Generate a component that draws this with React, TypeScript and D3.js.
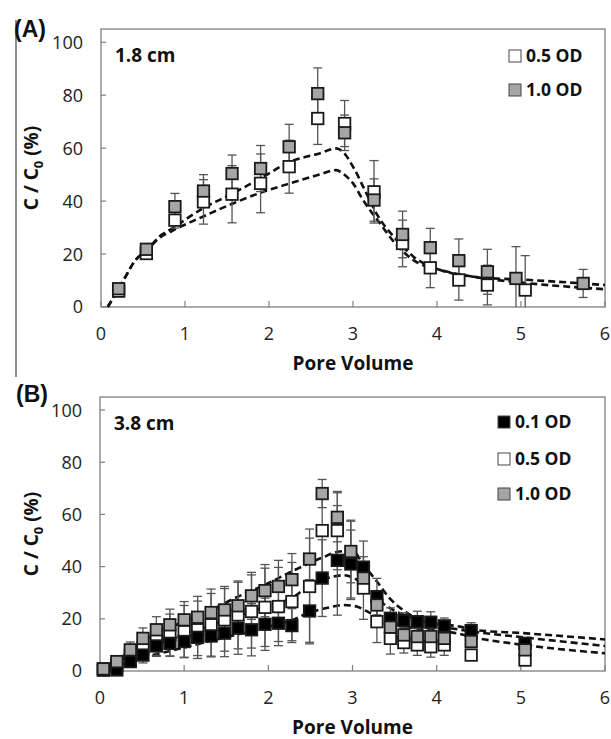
import { useEffect, useRef } from "react";
import * as d3 from "d3";

// ---- panel A (1.8 cm) ----
const pvA_05 = [0.21, 0.54, 0.88, 1.22, 1.56, 1.9, 2.24, 2.58, 2.9, 3.25, 3.59, 3.92, 4.26, 4.6, 5.05];
const cA_05 = [6, 20.2, 32.8, 39.7, 42.6, 46.7, 53, 71.2, 69.3, 43.5, 24, 14.8, 10.2, 8.3, 6.4];
const errA_05 = [1, 2, 3, 8.4, 10.8, 11.1, 10, 9.8, 8.7, 11.8, 8.8, 7.5, 7.6, 7.5, 13];

const pvA_10 = [0.21, 0.54, 0.88, 1.22, 1.56, 1.9, 2.24, 2.58, 2.9, 3.25, 3.59, 3.92, 4.26, 4.6, 4.94, 5.74];
const cA_10 = [6.9, 21.8, 37.9, 43.8, 50.4, 52.3, 60.5, 80.6, 65.8, 40.4, 27.4, 22.4, 17.5, 13.3, 10.8, 8.9];
const errA_10 = [1, 2, 5, 6.2, 7, 8.7, 8.5, 9.7, 6.7, 8, 8.8, 7.3, 8.2, 8.5, 12, 5.3];

const modelA_upper: [number, number][] = [
  [0.08, 0], [0.25, 9], [0.41, 17.7], [0.55, 21.5], [0.69, 26.5], [0.85, 29.7], [1.21, 37.2],
  [1.57, 42.9], [1.93, 49.2], [2.25, 54.8], [2.6, 58], [2.8, 59.9], [2.88, 58.6], [3.0, 53],
  [3.16, 42.9], [3.28, 35.3], [3.52, 25.3], [3.72, 19], [4.04, 14], [4.44, 11.4], [5.11, 10.2], [6, 8.3],
];
const modelA_lower: [number, number][] = [
  [0.08, 0], [0.25, 9], [0.41, 17.7], [0.55, 21.5], [0.69, 26], [0.85, 28.8], [1.21, 34.1],
  [1.57, 39.1], [1.93, 43.5], [2.25, 46.7], [2.6, 50], [2.8, 51.7], [2.88, 50.4], [3.0, 46.7],
  [3.12, 40.4], [3.32, 31.6], [3.52, 23.4], [3.72, 17.7], [4.04, 14], [4.44, 11.4], [5.11, 8.9], [6, 6.7],
];

// ---- panel B (3.8 cm) ----
const pvB = [0.04, 0.2, 0.36, 0.51, 0.67, 0.83, 1.0, 1.16, 1.32, 1.48, 1.64, 1.8, 1.96, 2.12, 2.28,
  2.49, 2.64, 2.82, 2.98, 3.13, 3.29, 3.45, 3.61, 3.77, 3.93, 4.09, 4.41, 5.05];
const cB_01 = [0.3, 0.4, 3.6, 6.1, 9.6, 10.6, 11.3, 12.9, 13.4, 14.5, 16.4, 15.8, 17.9, 18.3, 17.4,
  23, 35.6, 42.4, 41, 39.8, 28.5, 20.2, 19.3, 18.9, 18.7, 17.3, 15.5, 10.6];
const errB_01 = [1, 1, 2, 3, 4, 5, 6, 7, 8, 9, 10, 10, 10, 7, 6.5, 12, 14.7, 21, 13, 10, 7, 4, 3, 4, 4, 3, 3, 2];
const cB_05 = [0.8, 2, 6, 8.7, 11.9, 13.8, 15.1, 15.8, 17.7, 19.6, 21.5, 22.8, 24.4, 24.7, 26.6,
  32.4, 53.8, 53.8, 42.4, 31.8, 18.9, 12.5, 10.9, 10, 9.3, 10, 6.1, 4.2];
const errB_05 = [1, 2, 3, 4, 6, 8, 10, 11, 12, 12, 13, 14, 15, 15, 15, 22, 16, 15, 15, 12, 8, 6, 4, 4, 4, 4, 2, 2];
const cB_10 = [0.8, 3.6, 8.1, 12.5, 15.8, 17.7, 19.6, 20.6, 22.4, 23.4, 25, 28.8, 30.8, 32.4, 35,
  42.9, 68, 58.9, 45.8, 35.6, 25.3, 16.8, 13.8, 13.2, 13.2, 12.5, 11.3, 8.1];
const errB_10 = [1, 2, 3, 4, 5, 6, 7, 8, 9, 9, 9, 9, 10, 10, 10, 8, 5.4, 9.4, 12, 5, 4, 4, 3, 3, 3, 3, 2, 2];

const modelB_upper: [number, number][] = [
  [0, 0], [0.2, 4], [0.5, 11], [1, 19], [1.3, 23], [1.6, 27.9], [1.96, 33], [2.32, 38.8], [2.63, 43.3],
  [2.85, 45.8], [3.0, 46], [3.13, 40.7], [3.29, 34.3], [3.44, 27.9], [3.6, 23.4], [3.76, 20.2],
  [3.92, 18.3], [4.28, 17], [4.43, 15.8], [5.03, 14.5], [6, 12.1],
];
const modelB_middle: [number, number][] = [
  [0, 0], [0.5, 8], [1, 14], [1.5, 19.5], [2, 25], [2.28, 28], [2.45, 31.8], [2.65, 35], [2.9, 36.7],
  [3.05, 35], [3.21, 31.1], [3.36, 26], [3.52, 22.8], [3.72, 20.2], [4.0, 17.5], [4.43, 15.1],
  [5.03, 12.9], [6, 9.6],
];
const modelB_lower: [number, number][] = [
  [0, 0], [0.5, 5], [1, 9], [1.5, 13], [2, 17], [2.28, 19.5], [2.47, 22.2], [2.73, 24.4], [2.89, 25.3],
  [3.05, 24.7], [3.21, 22.2], [3.4, 19.6], [3.64, 17], [3.92, 15.8], [4.28, 14.2], [4.43, 13],
  [5.03, 10], [6, 6.8],
];

const xTicks = [0, 1, 2, 3, 4, 5, 6];
const yTicks = [0, 20, 40, 60, 80, 100];

const FONT = "'Open Sans', sans-serif";
const AXIS = "#7f7f7f";

type Series = { pv: number[]; c: number[]; err: number[]; fill: string; label: string };

type PanelCfg = {
  left: number; right: number; top: number; bottom: number;
  tag: string; tagX: number; tagY: number;
  length: string;
  series: Series[];
  legendX: number; legendY: number[];
  models: [number, number][][];
};

function drawPanel(svg: d3.Selection<SVGSVGElement, unknown, null, undefined>, cfg: PanelCfg) {
  const x = d3.scaleLinear().domain([0, 6]).range([cfg.left, cfg.right]);
  const y = d3.scaleLinear().domain([0, 105]).range([cfg.bottom, cfg.top]);
  const g = svg.append("g");

  // frame
  g.append("rect")
    .attr("x", cfg.left).attr("y", cfg.top)
    .attr("width", cfg.right - cfg.left).attr("height", cfg.bottom - cfg.top)
    .attr("fill", "none").attr("stroke", AXIS).attr("stroke-width", 1.3);

  // inside ticks
  g.selectAll(".yt").data(yTicks).enter().append("line")
    .attr("x1", cfg.left).attr("x2", cfg.left + 5)
    .attr("y1", (d) => y(d)).attr("y2", (d) => y(d))
    .attr("stroke", AXIS).attr("stroke-width", 1.2);
  g.selectAll(".xt").data(xTicks).enter().append("line")
    .attr("x1", (d) => x(d)).attr("x2", (d) => x(d))
    .attr("y1", cfg.bottom).attr("y2", cfg.bottom - 6)
    .attr("stroke", AXIS).attr("stroke-width", 1.2);

  g.selectAll(".yl").data(yTicks).enter().append("text")
    .attr("x", cfg.left - 18).attr("y", (d) => y(d)).attr("dy", "0.36em")
    .attr("text-anchor", "end").attr("font-family", FONT).attr("font-size", 18).attr("fill", "#222")
    .text((d) => d);
  g.selectAll(".xl").data(xTicks).enter().append("text")
    .attr("x", (d) => x(d)).attr("y", cfg.bottom + 33)
    .attr("text-anchor", "middle").attr("font-family", FONT).attr("font-size", 18).attr("fill", "#222")
    .text((d) => d);

  g.append("text")
    .attr("x", (cfg.left + cfg.right) / 2).attr("y", cfg.bottom + 63)
    .attr("text-anchor", "middle").attr("font-family", FONT).attr("font-weight", "bold")
    .attr("font-size", 19).attr("fill", "#111").text("Pore Volume");

  const yt = g.append("text")
    .attr("transform", `translate(38,${(cfg.top + cfg.bottom) / 2}) rotate(-90)`)
    .attr("text-anchor", "middle").attr("font-family", FONT).attr("font-weight", "bold")
    .attr("font-size", 19).attr("fill", "#111");
  yt.append("tspan").text("C / C");
  yt.append("tspan").attr("font-size", 13).attr("dy", 5).text("0");
  yt.append("tspan").attr("dy", -5).text(" (%)");

  g.append("text")
    .attr("x", cfg.tagX).attr("y", cfg.tagY)
    .attr("font-family", "'Liberation Sans', Arial, sans-serif").attr("font-weight", "bold")
    .attr("font-size", 23).attr("fill", "#111").text(cfg.tag);

  g.append("text")
    .attr("x", cfg.left + 14).attr("y", cfg.top + 33)
    .attr("font-family", FONT).attr("font-weight", "bold")
    .attr("font-size", 19).attr("fill", "#111").text(cfg.length);

  // model curves
  const line = d3.line<[number, number]>()
    .x((d) => x(d[0])).y((d) => y(d[1]))
    .curve(d3.curveMonotoneX);
  cfg.models.forEach((m) => {
    g.append("path").attr("d", line(m))
      .attr("fill", "none").attr("stroke", "#111").attr("stroke-width", 2.6)
      .attr("stroke-dasharray", "7,4");
  });

  // error bars, then markers
  const clipId = `clip-${cfg.tag.replace(/\W/g, "")}`;
  svg.append("clipPath").attr("id", clipId).append("rect")
    .attr("x", cfg.left).attr("y", cfg.top)
    .attr("width", cfg.right - cfg.left).attr("height", cfg.bottom - cfg.top);

  const cap = 4.5;
  cfg.series.forEach((s) => {
    const eb = g.append("g").attr("clip-path", `url(#${clipId})`)
      .attr("stroke", "#555").attr("stroke-width", 1.3);
    s.pv.forEach((p, i) => {
      const lo = y(s.c[i] - s.err[i]);
      const hi = y(s.c[i] + s.err[i]);
      eb.append("line").attr("x1", x(p)).attr("x2", x(p)).attr("y1", lo).attr("y2", hi);
      eb.append("line").attr("x1", x(p) - cap).attr("x2", x(p) + cap).attr("y1", lo).attr("y2", lo);
      eb.append("line").attr("x1", x(p) - cap).attr("x2", x(p) + cap).attr("y1", hi).attr("y2", hi);
    });
  });

  const size = 11.5;
  cfg.series.forEach((s) => {
    g.append("g").selectAll("rect").data(s.pv).enter().append("rect")
      .attr("x", (p) => x(p) - size / 2)
      .attr("y", (_p, i) => y(s.c[i]) - size / 2)
      .attr("width", size).attr("height", size)
      .attr("fill", s.fill).attr("stroke", "#1a1a1a").attr("stroke-width", 1.8);
  });

  // legend (listed top to bottom in drawing order reversed to the series order)
  const legendOrder = [...cfg.series].sort((a, b) => a.label.localeCompare(b.label));
  legendOrder.forEach((s, i) => {
    const ly = cfg.legendY[i];
    g.append("rect")
      .attr("x", cfg.legendX - 6).attr("y", ly - 6).attr("width", 12).attr("height", 12)
      .attr("fill", s.fill).attr("stroke", "#444").attr("stroke-width", 1);
    g.append("text")
      .attr("x", cfg.legendX + 11).attr("y", ly).attr("dy", "0.36em")
      .attr("font-family", FONT).attr("font-weight", "bold").attr("font-size", 17.5)
      .attr("fill", "#111").text(s.label);
  });
}

export default function App() {
  const ref = useRef<SVGSVGElement>(null);

  useEffect(() => {
    const svg = d3.select(ref.current);
    svg.selectAll("*").remove();

    // stray vertical rule on the left of panel A
    svg.append("line").attr("x1", 16).attr("x2", 16).attr("y1", 20).attr("y2", 377)
      .attr("stroke", "#444").attr("stroke-width", 1.2);

    drawPanel(svg as any, {
      left: 101, right: 605, top: 29, bottom: 307,
      tag: "(A)", tagX: 14, tagY: 37, length: "1.8 cm",
      series: [
        { pv: pvA_05, c: cA_05, err: errA_05, fill: "#ffffff", label: "0.5 OD" },
        { pv: pvA_10, c: cA_10, err: errA_10, fill: "#a6a6a6", label: "1.0 OD" },
      ],
      legendX: 515, legendY: [56, 90],
      models: [modelA_upper, modelA_lower],
    });

    drawPanel(svg as any, {
      left: 100, right: 605, top: 397, bottom: 671,
      tag: "(B)", tagX: 16, tagY: 402, length: "3.8 cm",
      series: [
        { pv: pvB, c: cB_05, err: errB_05, fill: "#ffffff", label: "0.5 OD" },
        { pv: pvB, c: cB_01, err: errB_01, fill: "#000000", label: "0.1 OD" },
        { pv: pvB, c: cB_10, err: errB_10, fill: "#a6a6a6", label: "1.0 OD" },
      ],
      legendX: 504, legendY: [422, 459, 494],
      models: [modelB_upper, modelB_middle, modelB_lower],
    });
  }, []);

  return (
    <svg
      ref={ref}
      width={611}
      height={739}
      style={{ position: "absolute", left: 0, top: 0, background: "#fff" }}
    />
  );
}
